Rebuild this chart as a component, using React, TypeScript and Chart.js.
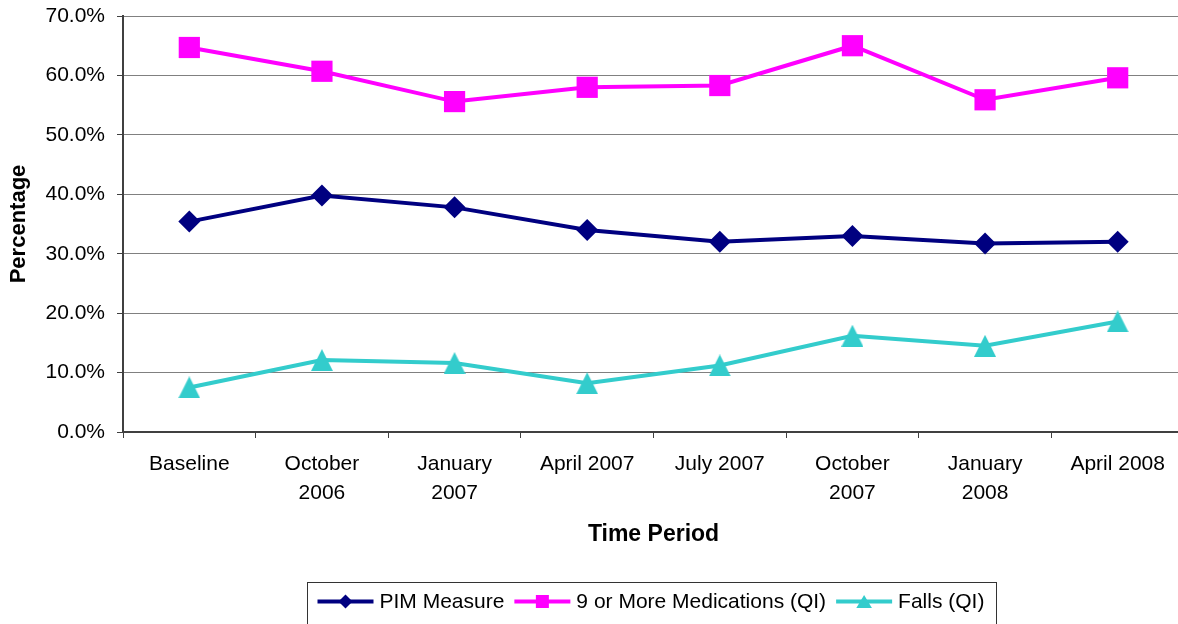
import React, { useEffect, useRef } from 'react';
import { Chart, registerables } from 'chart.js';

Chart.register(...registerables);

const categories: string[][] = [
  ['Baseline'],
  ['October', '2006'],
  ['January', '2007'],
  ['April 2007'],
  ['July 2007'],
  ['October', '2007'],
  ['January', '2008'],
  ['April 2008'],
];
const pimMeasure = [35.4, 39.8, 37.8, 34.0, 32.0, 33.0, 31.7, 32.0];
const nineOrMoreMeds = [64.7, 60.7, 55.6, 58.0, 58.3, 65.0, 55.9, 59.6];
const fallsQI = [7.5, 12.1, 11.6, 8.2, 11.2, 16.2, 14.5, 18.6];
const seriesLabels = ['PIM Measure', '9 or More Medications (QI)', 'Falls (QI)'];
const seriesColors = ['#000080', '#FF00FF', '#33CCCC'];
const seriesMarkers = ['diamond', 'square', 'triangle'];
const yAxisTitle = 'Percentage';
const xAxisTitle = 'Time Period';
const yMin = 0;
const yMax = 70;
const yStep = 10;

const FONT = '"Liberation Sans", Arial, Helvetica, sans-serif';

function makeTriangle(color: string, w: number, h: number): HTMLCanvasElement {
  const c = document.createElement('canvas');
  c.width = w;
  c.height = h;
  const g = c.getContext('2d')!;
  g.fillStyle = color;
  g.beginPath();
  g.moveTo(w / 2, 0);
  g.lineTo(w, h);
  g.lineTo(0, h);
  g.closePath();
  g.fill();
  return c;
}

function drawMarker(ctx: CanvasRenderingContext2D, kind: string, x: number, y: number, color: string, s: number) {
  ctx.fillStyle = color;
  ctx.beginPath();
  if (kind === 'diamond') {
    ctx.moveTo(x, y - s / 2);
    ctx.lineTo(x + s / 2, y);
    ctx.lineTo(x, y + s / 2);
    ctx.lineTo(x - s / 2, y);
  } else if (kind === 'square') {
    ctx.rect(x - s / 2, y - s / 2, s, s);
  } else {
    ctx.moveTo(x, y - s / 2);
    ctx.lineTo(x + s * 0.6, y + s / 2);
    ctx.lineTo(x - s * 0.6, y + s / 2);
  }
  ctx.closePath();
  ctx.fill();
}

const boxLegendPlugin = {
  id: 'boxLegend',
  afterDraw(chart: any) {
    const ctx: CanvasRenderingContext2D = chart.ctx;
    const area = chart.chartArea;
    ctx.save();
    ctx.font = `21px ${FONT}`;
    const lineLen = 56;
    const gapText = 6;
    const gapItem = 10;
    const padL = 10;
    const padR = 12;
    const items = chart.data.datasets.map((ds: any, i: number) => ({
      label: ds.label as string,
      color: ds.borderColor as string,
      marker: seriesMarkers[i],
      w: ctx.measureText(ds.label).width,
    }));
    const content =
      items.reduce((s: number, it: any) => s + lineLen + gapText + it.w, 0) + gapItem * (items.length - 1);
    const boxW = Math.round(content + padL + padR);
    const cx = (area.left + area.right) / 2 - 2;
    const boxL = Math.round(cx - boxW / 2) + 0.5;
    const boxT = chart.height - 41.5;
    ctx.strokeStyle = '#333333';
    ctx.lineWidth = 1;
    ctx.strokeRect(boxL, boxT, boxW, 60);
    let x = boxL + padL;
    const y = boxT + 19;
    ctx.textBaseline = 'middle';
    ctx.textAlign = 'left';
    for (const it of items) {
      ctx.strokeStyle = it.color;
      ctx.lineWidth = 4;
      ctx.beginPath();
      ctx.moveTo(x, y);
      ctx.lineTo(x + lineLen, y);
      ctx.stroke();
      drawMarker(ctx, it.marker, x + lineLen / 2, y, it.color, it.marker === 'diamond' ? 14 : 13);
      x += lineLen + gapText;
      ctx.fillStyle = '#000000';
      ctx.fillText(it.label, x, y + 1);
      x += it.w + gapItem;
    }
    ctx.restore();
  },
};

export default function App() {
  const canvasRef = useRef<HTMLCanvasElement | null>(null);

  useEffect(() => {
    document.body.style.margin = '0';
    const canvas = canvasRef.current;
    if (!canvas) return;
    Chart.defaults.font.family = FONT;
    Chart.defaults.color = '#000000';
    const triangle = makeTriangle(seriesColors[2], 22, 22);

    const chart = new Chart(canvas, {
      type: 'line',
      data: {
        labels: categories,
        datasets: [
          {
            label: seriesLabels[0],
            data: pimMeasure,
            borderColor: seriesColors[0],
            backgroundColor: seriesColors[0],
            borderWidth: 4,
            pointStyle: 'rectRot',
            pointRadius: 11,
            pointBorderWidth: 0,
            tension: 0,
          },
          {
            label: seriesLabels[1],
            data: nineOrMoreMeds,
            borderColor: seriesColors[1],
            backgroundColor: seriesColors[1],
            borderWidth: 4,
            pointStyle: 'rect',
            pointRadius: 15,
            pointBorderWidth: 0,
            tension: 0,
          },
          {
            label: seriesLabels[2],
            data: fallsQI,
            borderColor: seriesColors[2],
            backgroundColor: seriesColors[2],
            borderWidth: 4,
            pointStyle: triangle as any,
            pointRadius: 11,
            pointBorderWidth: 0,
            tension: 0,
          },
        ],
      },
      options: {
        responsive: false,
        animation: false,
        events: [],
        layout: { autoPadding: false, padding: { left: 0, right: 0, top: 16, bottom: 76 } },
        plugins: {
          legend: { display: false },
          tooltip: { enabled: false },
        },
        scales: {
          x: {
            type: 'category',
            offset: true,
            grid: {
              offset: true,
              drawOnChartArea: false,
              drawTicks: true,
              tickLength: 6,
              color: '#404040',
              tickColor: '#404040',
            },
            border: { display: true, color: '#404040', width: 2 },
            ticks: {
              maxRotation: 0,
              autoSkip: false,
              padding: 12,
              color: '#000000',
              font: { size: 21, lineHeight: 1.38 },
            },
            title: {
              display: true,
              text: xAxisTitle,
              color: '#000000',
              font: { size: 23, weight: 'bold' },
              padding: { top: 0, bottom: 0 },
            },
            afterFit: (scale: any) => {
              scale.height = 116;
              scale.paddingLeft = 0;
              scale.paddingRight = 0;
            },
          },
          y: {
            min: yMin,
            max: yMax,
            ticks: {
              stepSize: yStep,
              padding: 12,
              color: '#000000',
              font: { size: 21 },
              callback: (v: any) => Number(v).toFixed(1) + '%',
            },
            grid: {
              color: '#808080',
              lineWidth: 1,
              drawTicks: true,
              tickLength: 6,
              tickColor: '#404040',
            },
            border: { display: true, color: '#404040', width: 2 },
            title: {
              display: true,
              text: yAxisTitle,
              color: '#000000',
              font: { size: 22, weight: 'bold' },
              padding: { top: 6, bottom: 0 },
            },
            afterFit: (scale: any) => {
              scale.width = 123;
              scale.paddingTop = 0;
              scale.paddingBottom = 0;
            },
          },
        },
      },
      plugins: [boxLegendPlugin],
    });

    return () => {
      chart.destroy();
    };
  }, []);

  return (
    <div style={{ width: 1178, height: 624, overflow: 'hidden', position: 'relative', background: '#ffffff' }}>
      <canvas ref={canvasRef} width={1184} height={624} style={{ display: 'block' }} />
    </div>
  );
}
